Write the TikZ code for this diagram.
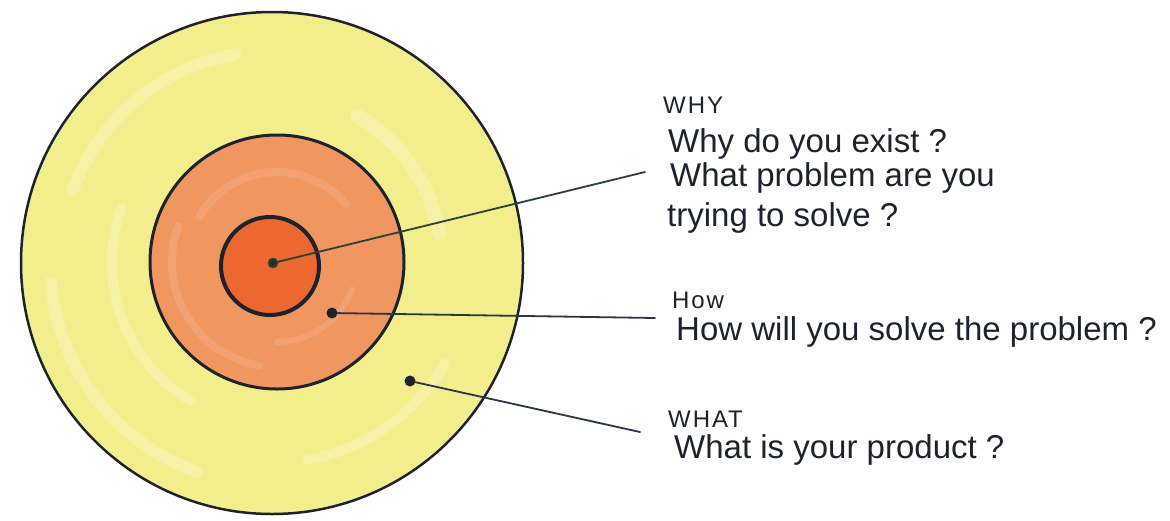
\documentclass[tikz,border=0pt]{standalone}
\usepackage{fontspec}
\setmainfont{Liberation Sans}
\definecolor{ringyellow}{RGB}{243,238,140}
\definecolor{ringorange}{RGB}{240,150,95}
\definecolor{coreorange}{RGB}{236,104,48}
\definecolor{ink}{RGB}{30,34,44}
\definecolor{wire}{RGB}{43,53,72}
\definecolor{greenink}{RGB}{40,70,50}
\tikzset{
  ring/.style={circle, draw=ink, inner sep=0pt},
  dot/.style={circle, fill=ink, inner sep=0pt, minimum size=11pt},
  conn/.style={draw=wire, line width=1.8pt, line cap=round},
  head/.style={anchor=base west, inner sep=0pt, font=\fontsize{24}{26}\selectfont\addfontfeatures{LetterSpace=8}, text=ink},
  body/.style={anchor=base west, inner sep=0pt, font=\fontsize{33}{36}\selectfont, text=ink},
  streak/.style={white, opacity=0.22, line cap=round},
}
\begin{document}
\begin{tikzpicture}[x=1pt,y=-1pt]
\useasboundingbox (0,0) rectangle (1170,520);
% rings
\node[ring, fill=ringyellow, line width=2.5pt, minimum size=502pt] (what) at (272,263) {};
% marker texture in yellow band
\begin{scope}
\draw[streak, line width=12pt] (272,263) ++(110:222) arc[start angle=110, end angle=175, radius=222];
\draw[streak, line width=10pt] (272,263) ++(30:200) arc[start angle=30, end angle=80, radius=200];
\draw[streak, line width=12pt] (272,263) ++(200:212) arc[start angle=200, end angle=260, radius=212];
\draw[streak, line width=14pt] (272,263) ++(-60:170) arc[start angle=-60, end angle=-10, radius=170];
\draw[streak, line width=10pt] (272,263) ++(120:160) arc[start angle=120, end angle=200, radius=160];
\end{scope}
\node[ring, fill=ringorange, line width=3pt, minimum size=254pt] (how) at (277,262) {};
\begin{scope}
\draw[streak, opacity=0.12, line width=8pt] (277,262) ++(100:105) arc[start angle=100, end angle=200, radius=105];
\draw[streak, opacity=0.12, line width=8pt] (277,262) ++(210:90) arc[start angle=210, end angle=320, radius=90];
\draw[streak, opacity=0.12, line width=6pt] (277,262) ++(20:80) arc[start angle=20, end angle=90, radius=80];
\end{scope}
\node[ring, fill=coreorange, line width=4pt, minimum size=98pt] (why) at (270,266) {};
% dots
\node[circle, draw=greenink, fill=ink!70!greenink, line width=1.5pt, inner sep=0pt, minimum size=9pt] (whydot) at (273,263) {};
\node[dot] (howdot) at (332,313) {};
\node[dot] (whatdot) at (410,381) {};
% connector ends
\coordinate (whyend) at (645,172);
\coordinate (howend) at (655,318);
\coordinate (whatend) at (640,432);
\draw[conn, draw=greenink!70!wire] (whydot) -- (whyend);
\draw[conn] (howdot) -- (howend);
\draw[conn] (whatdot) -- (whatend);
% texts
\node[head] (whyhead) at (663,113) {WHY};
\node[body] (whyl1) at (668,152) {Why do you exist ?};
\node[body] (whyl2) at (670,186) {What problem are you};
\node[body] (whyl3) at (667,226) {trying to solve ?};
\node[head] (howhead) at (672,308) {How};
\node[body] (howl1) at (676,340) {How will you solve the problem ?};
\node[head] (whathead) at (668,427) {WHAT};
\node[body] (whatl1) at (674,458) {What is your product ?};
\end{tikzpicture}
\end{document}
